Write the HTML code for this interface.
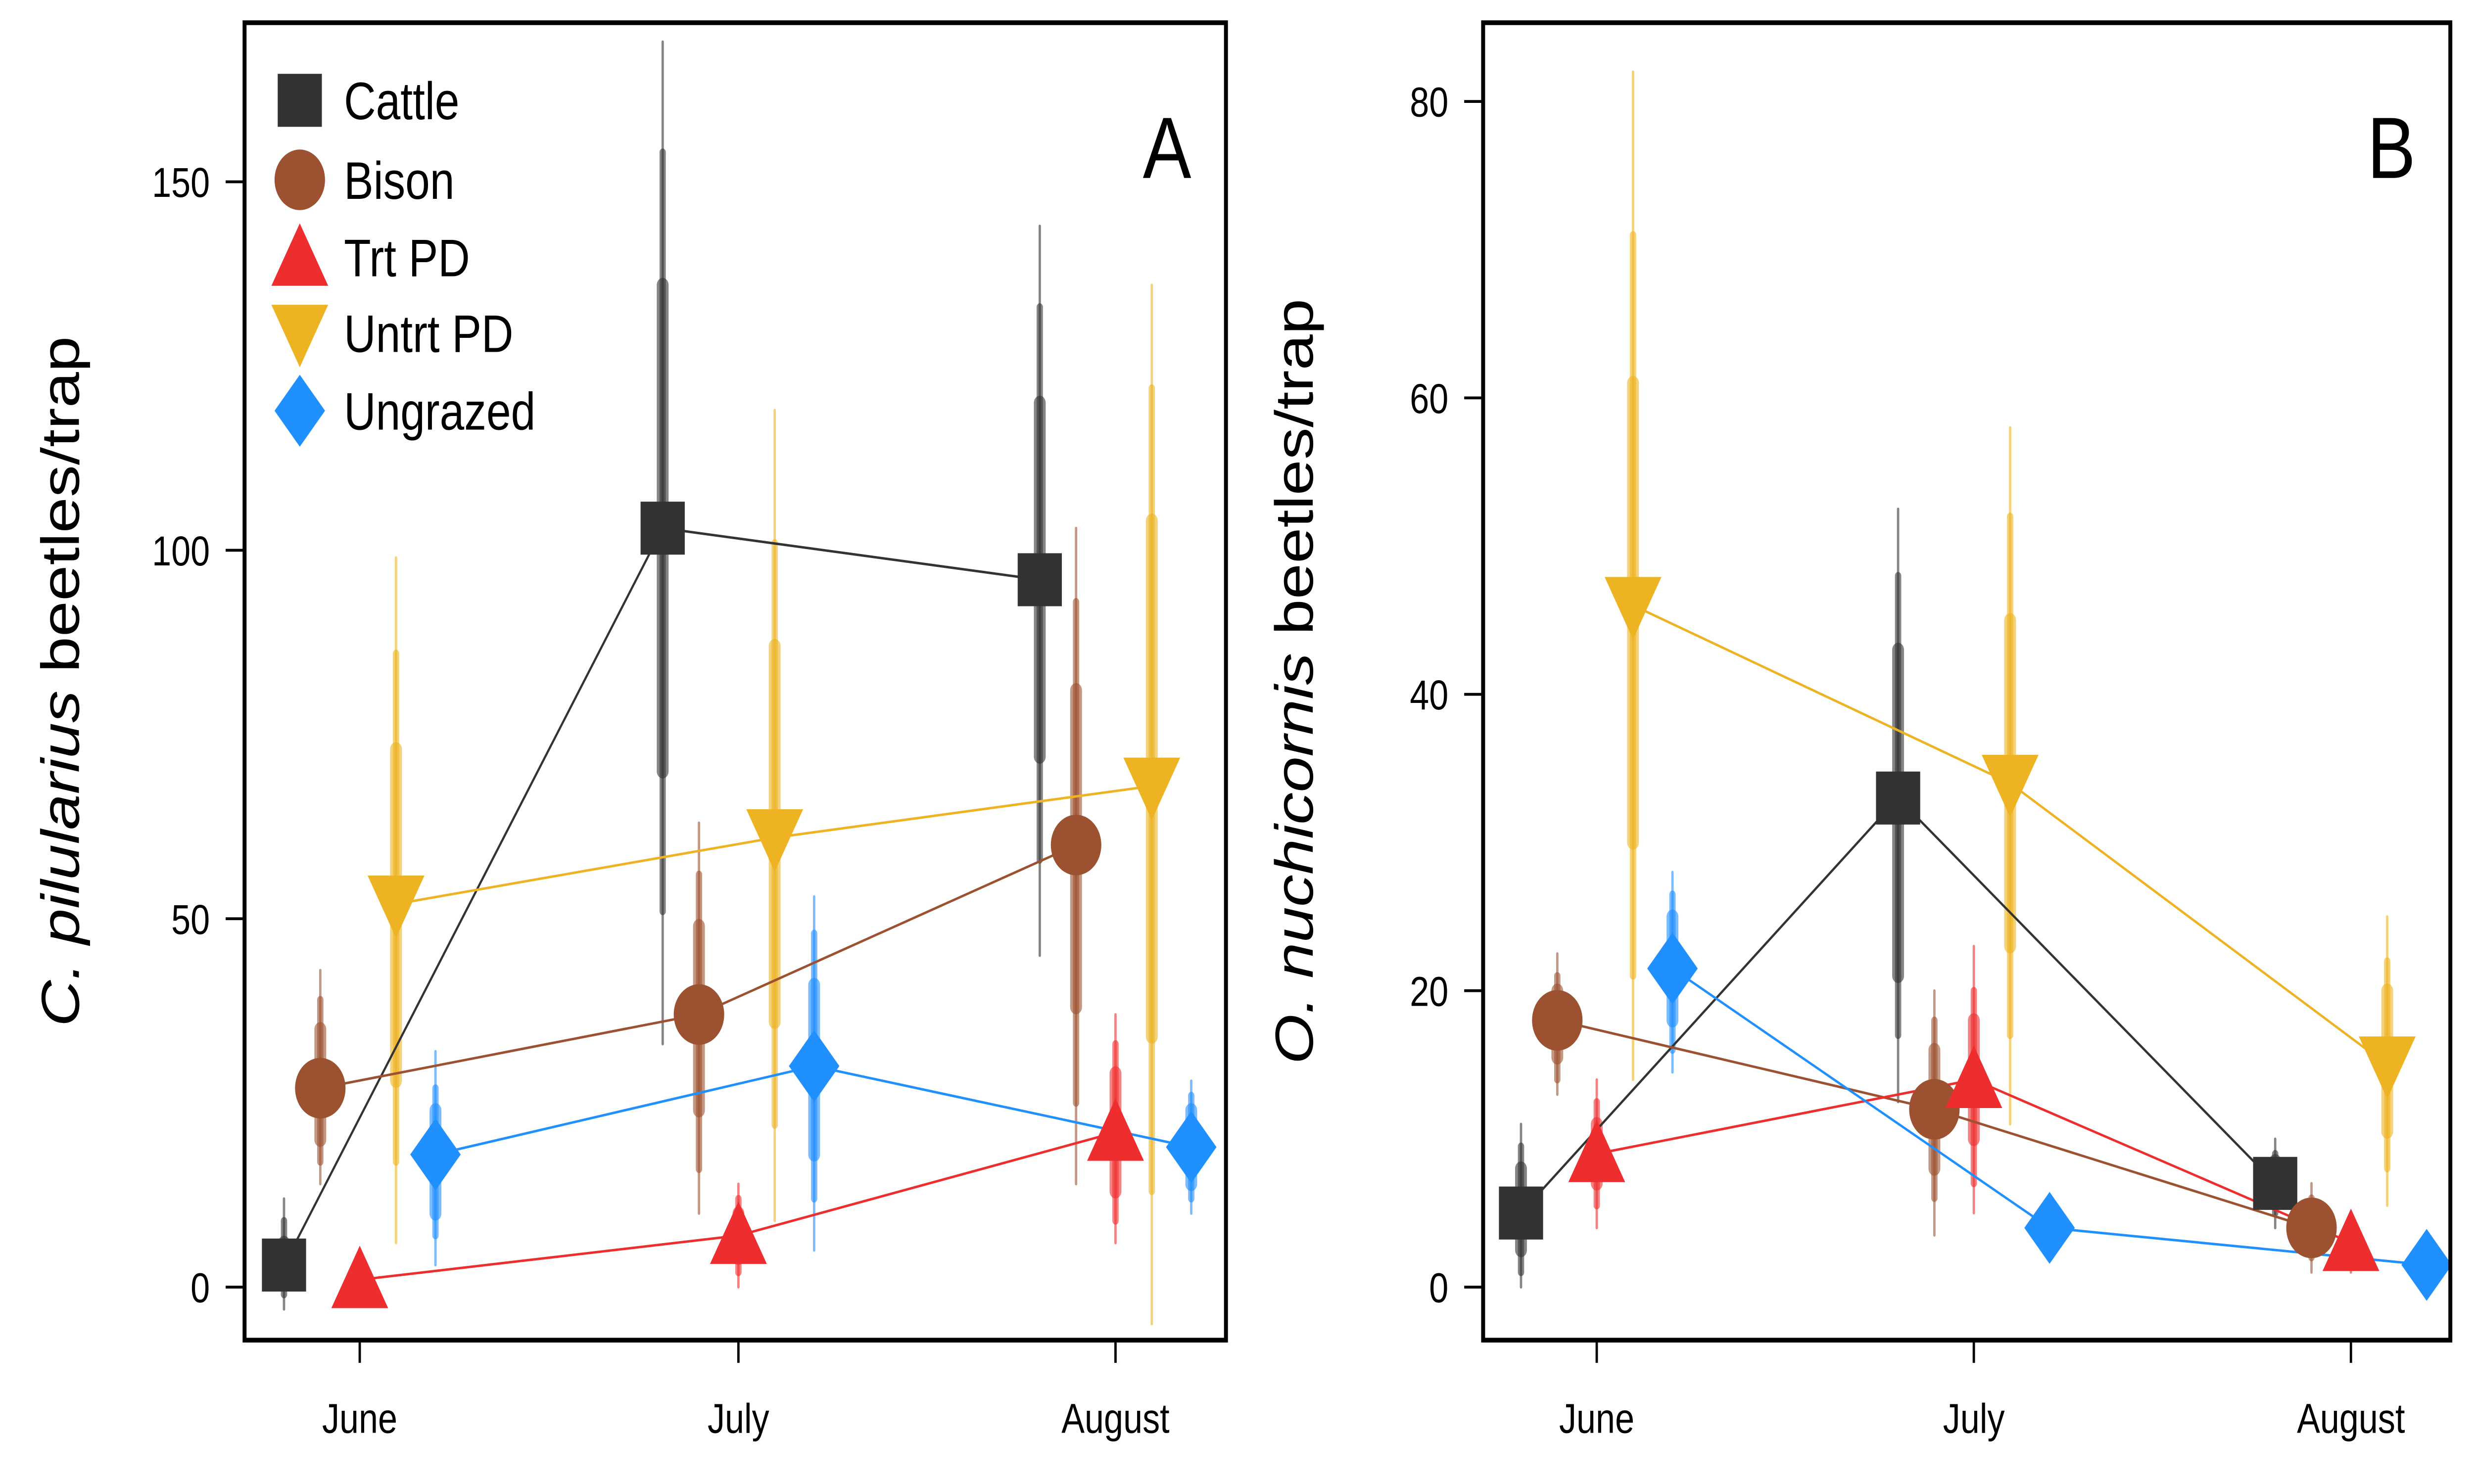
<!DOCTYPE html>
<html><head><meta charset="utf-8"><style>
html,body{margin:0;padding:0;background:#fff;width:100%;height:100%;overflow:hidden}
svg{display:block;width:100vw;height:100vh}
text{font-family:"Liberation Sans",Arial,sans-serif}
</style></head><body>
<svg id="chart" viewBox="0 0 1568 784" preserveAspectRatio="none" xmlns="http://www.w3.org/2000/svg"></svg>
<script>
const months = ["June","July","August"];
const groups = ["Cattle","Bison","Trt PD","Untrt PD","Ungrazed"];
const colors = ["#333333","#9c5130","#ee2e2e","#edb323","#2190ff"];
// Panel A means and intervals [thinLo,thinHi,midLo,midHi,thickLo,thickHi]
const meanA = [[3,103,96],[27,37,60],[1,7,21],[52,61,68],[18,30,19]];
const ciA = [
 [[-3,12,-1,9,1,6],[33,169,51,154,70,136],[45,144,58,133,72,120]],
 [[14,43,17,39,20,35],[10,63,16,56,24,49],[14,103,25,93,38,81]],
 [[0,3,0,2,0,2],[0,14,2,12,4,10],[6,37,9,33,13,29]],
 [[6,99,17,86,28,73],[9,119,22,101,36,87],[-5,136,13,122,34,104]],
 [[3,32,7,27,10,24],[5,53,12,48,18,41],[10,28,12,26,14,24]]
];
const meanB = [[5,33,7],[18,12,4],[9,14,3],[46,34,15],[21.5,4,1.5]];
const ciB = [
 [[0,11,1,9.5,2.5,8],[12.5,52.5,17,48,21,43],[4,10,5,9,6,8.5]],
 [[13,22.5,14,21,15.5,20],[3.5,20,6,18,8,16],[1,7,2,6,3,5]],
 [[4,14,5.5,12.5,7,11],[5,23,7,20,10,18],[1,5,1.5,4.5,2,4]],
 [[14,82,21,71,30,61],[11,58,17,52,23,45],[5.5,25,8,22,10.5,20]],
 [[14.5,28,16,26.5,18,25],[3,5,3,5,3,5],[1,2,1,2,1,2]]
];
const ticksA = [0,50,100,150];
const ticksB = [0,20,40,60,80];

const svg = document.getElementById('chart');
const NS = "http://www.w3.org/2000/svg";
function mk(tag, attrs, parent){const e=document.createElementNS(NS,tag);for(const k in attrs)e.setAttribute(k,attrs[k]);(parent||svg).appendChild(e);return e;}

const offsets=[-48,-25,0,23,48];
function marker(g,i,cx,cy,name){
  let e;
  if(i===0) e=mk('rect',{x:cx-14,y:cy-14,width:28,height:28,fill:colors[0]},g);
  else if(i===1) e=mk('circle',{cx:cx,cy:cy,r:16,fill:colors[1]},g);
  else if(i===2) e=mk('polygon',{points:`${cx},${cy-18} ${cx+18},${cy+15} ${cx-18},${cy+15}`,fill:colors[2]},g);
  else if(i===3) e=mk('polygon',{points:`${cx-18},${cy-15} ${cx+18},${cy-15} ${cx},${cy+18}`,fill:colors[3]},g);
  else e=mk('polygon',{points:`${cx},${cy-19} ${cx+16},${cy} ${cx},${cy+19} ${cx-16},${cy}`,fill:colors[4]},g);
  
  
}

function panel(cfg){
  const {x0,x1,y0,y1,xm,ymap,ticks,mean,ci,letter,label1,label2,id} = cfg;
  const g = mk('g',{});
  
  
  ticks.forEach(t=>{
    const y=ymap(t);
    mk('line',{x1:x0,x2:x0-12,y1:y,y2:y,stroke:'#000','stroke-width':1.5},g);
    const tx=mk('text',{x:x0-22,y:y+8,'font-size':22,'text-anchor':'end'},g);
    tx.textContent=t;
    
    
  });
  months.forEach((m,j)=>{
    const x=xm[j];
    mk('line',{x1:x,x2:x,y1:y1,y2:y1+12,stroke:'#000','stroke-width':1.5},g);
    const tx=mk('text',{x:x,y:757,'font-size':22,'text-anchor':'middle'},g);
    tx.textContent=m;
    
    
  });
  groups.forEach((gr,i)=>{
    months.forEach((m,j)=>{
      const x=xm[j]+offsets[i], c=ci[i][j];
      const w=[1.5,4,7.5];
      for(let k=0;k<3;k++){
        const l=mk('line',{x1:x,x2:x,y1:ymap(c[2*k]),y2:ymap(c[2*k+1]),stroke:colors[i],'stroke-width':w[k],'stroke-opacity':0.6,'stroke-linecap':'round'},g);
        
        
      }
    });
  });
  groups.forEach((gr,i)=>{
    const pts=months.map((m,j)=>`${xm[j]+offsets[i]},${ymap(mean[i][j])}`).join(' ');
    const pl=mk('polyline',{points:pts,fill:'none',stroke:colors[i],'stroke-width':1.3},g);
    
    
  });
  groups.forEach((gr,i)=>{
    months.forEach((m,j)=>marker(g,i,xm[j]+offsets[i],ymap(mean[i][j]),'point'));
  });
  mk('rect',{x:x0,y:y0,width:x1-x0,height:y1-y0,fill:'none',stroke:'#000','stroke-width':2.5},g);
  const lt=mk('text',{x:x1-22,y:y0+82,'font-size':46,'text-anchor':'end'},g);
  lt.textContent=letter;
  
  
  const yl=mk('text',{x:0,y:0,'font-size':34,'text-anchor':'middle',transform:`translate(${cfg.labelX},${(y0+y1)/2}) rotate(-90)`},g);
  
  
  const ts=mk('tspan',{'font-style':'italic'},yl); ts.textContent=label1;
  const ts2=mk('tspan',{},yl); ts2.textContent=label2;
}

panel({id:'panel-a',x0:155,x1:777,y0:12,y1:708,xm:[228,468,707],ymap:v=>680-3.893*v,ticks:ticksA,mean:meanA,ci:ciA,letter:'A',label1:'C. pilularius',label2:' beetles/trap',labelX:50});
panel({id:'panel-b',x0:940,x1:1553,y0:12,y1:708,xm:[1012,1251,1490],ymap:v=>680-7.83*v,ticks:ticksB,mean:meanB,ci:ciB,letter:'B',label1:'O. nuchicornis',label2:' beetles/trap',labelX:832});

const lg=mk('g',{});


const ly=[53,95,136,176,217];
groups.forEach((gr,i)=>{
  marker(lg,i,190,ly[i],'legend-marker');
  const t=mk('text',{x:218,y:ly[i]+10,'font-size':28},lg);
  t.textContent=gr;
  
  
});
</script>
</body></html>
